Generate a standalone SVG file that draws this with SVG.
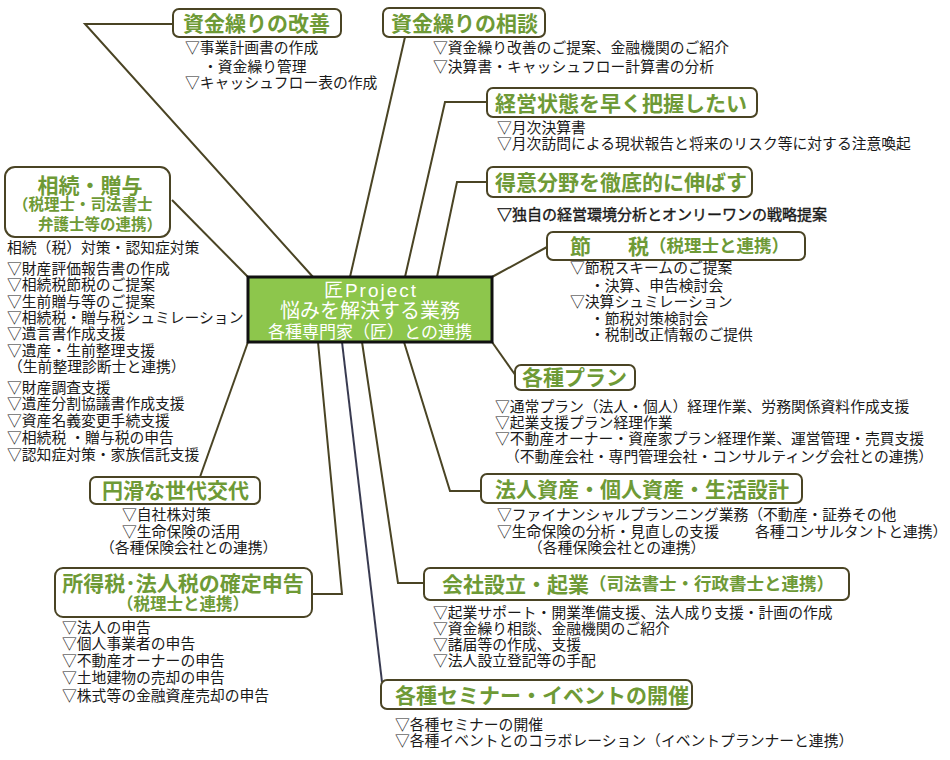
<svg xmlns="http://www.w3.org/2000/svg" width="950" height="760" viewBox="0 0 950 760">
<style>
.ln{stroke:#4a4424;stroke-width:2;fill:none}
.bx{fill:#fff;stroke:#4a4424;stroke-width:2}
text{font-family:"Liberation Sans","Noto Sans CJK JP","Noto Sans CJK SC",sans-serif;dominant-baseline:central}
.tt{font-weight:bold;fill:#6e9a36;font-size:21px}
.ts{font-weight:bold;fill:#6e9a36;font-size:17.5px}
.tx{font-size:14.8px;fill:#1a1a1a}
.cw{fill:#fff;font-size:20px;text-anchor:middle}
</style>
<rect width="950" height="760" fill="#fff"/>
<g id="connectors">
<polyline class="ln" points="173,24 85,24 313,277"/>
<polyline class="ln" points="172,200 248,277"/>
<polyline class="ln" points="405,37 350,277"/>
<polyline class="ln" points="487,102 445,102 405,277"/>
<polyline class="ln" points="487,182 457,182 437,277"/>
<polyline class="ln" points="547,247 492,277"/>
<polyline class="ln" points="492,342 516,376"/>
<polyline class="ln" points="404,342 450,491 481,491"/>
<polyline class="ln" points="362,342 398,583 424,583"/>
<polyline class="ln" points="342,342 382,682" style="stroke:#383a50"/>
<polyline class="ln" points="318,342 342,594 312,594"/>
<polyline class="ln" points="248,342 200,477"/>
</g>
<g id="center">
<rect x="248" y="277" width="244" height="65" fill="#8dc64c" stroke="#111" stroke-width="3"/>
<text class="cw"><tspan x="371" y="289.5" style="font-size:19px;letter-spacing:2px">匠Project</tspan><tspan x="370" y="311.3">悩みを解決する業務</tspan><tspan x="370" y="332" style="font-size:17px">各種専門家（匠）との連携</tspan></text>
</g>
<g id="kaizen">
<rect class="bx" x="173" y="9" width="168" height="28" rx="6"/>
<text class="tt" x="183" y="23">資金繰りの改善</text>
<text class="tx"><tspan x="185" y="48">▽事業計画書の作成</tspan><tspan x="203" y="67">・資金繰り管理</tspan><tspan x="185" y="83">▽キャッシュフロー表の作成</tspan></text>
</g>
<g id="soudan">
<rect class="bx" x="383" y="8" width="162" height="29" rx="6"/>
<text class="tt" x="391" y="23">資金繰りの相談</text>
<text class="tx"><tspan x="433" y="48">▽資金繰り改善のご提案、金融機関のご紹介</tspan><tspan x="433" y="67">▽決算書・キャッシュフロー計算書の分析</tspan></text>
</g>
<g id="keiei">
<rect class="bx" x="487" y="88" width="270" height="29" rx="6"/>
<text class="tt" x="495" y="103">経営状態を早く把握したい</text>
<text class="tx"><tspan x="497" y="128">▽月次決算書</tspan><tspan x="497" y="144">▽月次訪問による現状報告と将来のリスク等に対する注意喚起</tspan></text>
</g>
<g id="tokui">
<rect class="bx" x="487" y="167" width="265" height="30" rx="6"/>
<text class="tt" x="495" y="182">得意分野を徹底的に伸ばす</text>
<text class="tx" x="497" y="214" style="font-size:15px;stroke:#1a1a1a;stroke-width:0.4">▽独自の経営環境分析とオンリーワンの戦略提案</text>
</g>
<g id="setsuzei">
<rect class="bx" x="547" y="232" width="258" height="28" rx="6"/>
<text class="tt" y="246"><tspan x="570">節</tspan><tspan x="628">税</tspan><tspan x="649" style="font-size:17.5px">（税理士と連携）</tspan></text>
<text class="tx"><tspan x="570" y="268">▽節税スキームのご提案</tspan><tspan x="590" y="286">・決算、申告検討会</tspan><tspan x="570" y="302">▽決算シュミレーション</tspan><tspan x="590" y="319">・節税対策検討会</tspan><tspan x="590" y="335">・税制改正情報のご提供</tspan></text>
</g>
<g id="plan">
<rect class="bx" x="515" y="365" width="120" height="25" rx="6"/>
<text class="tt" x="522" y="377">各種プラン</text>
<text class="tx"><tspan x="495" y="407">▽通常プラン（法人・個人）経理作業、労務関係資料作成支援</tspan><tspan x="495" y="423">▽起業支援プラン経理作業</tspan><tspan x="495" y="439">▽不動産オーナー・資産家プラン経理作業、運営管理・売買支援</tspan><tspan x="505" y="457">（不動産会社・専門管理会社・コンサルティング会社との連携）</tspan></text>
</g>
<g id="shisan">
<rect class="bx" x="481" y="474" width="321" height="29" rx="6"/>
<text class="tt" x="495" y="489">法人資産・個人資産・生活設計</text>
<text class="tx"><tspan x="497" y="515">▽ファイナンシャルプランニング業務（不動産・証券その他</tspan><tspan x="497" y="532">▽生命保険の分析・見直しの支援</tspan><tspan x="755" y="532">各種コンサルタントと連携）</tspan><tspan x="528" y="548">（各種保険会社との連携）</tspan></text>
</g>
<g id="kigyou">
<rect class="bx" x="424" y="568" width="425" height="32" rx="6"/>
<text class="tt" y="584"><tspan x="442">会社設立・起業</tspan><tspan x="589" style="font-size:17.5px">（司法書士・行政書士と連携）</tspan></text>
<text class="tx"><tspan x="433" y="613">▽起業サポート・開業準備支援、法人成り支援・計画の作成</tspan><tspan x="433" y="629">▽資金繰り相談、金融機関のご紹介</tspan><tspan x="433" y="645">▽諸届等の作成、支援</tspan><tspan x="433" y="661">▽法人設立登記等の手配</tspan></text>
</g>
<g id="seminar">
<rect class="bx" x="381" y="680" width="311" height="29" rx="6"/>
<text class="tt" x="395" y="695">各種セミナー・イベントの開催</text>
<text class="tx"><tspan x="395" y="725">▽各種セミナーの開催</tspan><tspan x="395" y="741">▽各種イベントとのコラボレーション（イベントプランナーと連携）</tspan></text>
</g>
<g id="shinkoku">
<rect class="bx" x="55" y="568" width="257" height="49" rx="8"/>
<text class="tt" style="text-anchor:middle"><tspan x="183" y="583">所得税･法人税の確定申告</tspan><tspan x="183" y="604" style="font-size:16.5px">（税理士と連携）</tspan></text>
<text class="tx"><tspan x="62" y="628">▽法人の申告</tspan><tspan x="62" y="644">▽個人事業者の申告</tspan><tspan x="62" y="661">▽不動産オーナーの申告</tspan><tspan x="62" y="678">▽土地建物の売却の申告</tspan><tspan x="62" y="696">▽株式等の金融資産売却の申告</tspan></text>
</g>
<g id="sedai">
<rect class="bx" x="90" y="477" width="170" height="27" rx="6"/>
<text class="tt" x="102" y="490">円滑な世代交代</text>
<text class="tx"><tspan x="122" y="515">▽自社株対策</tspan><tspan x="122" y="532">▽生命保険の活用</tspan><tspan x="100" y="548">（各種保険会社との連携）</tspan></text>
</g>
<g id="souzoku">
<rect class="bx" x="5" y="167" width="165" height="70" rx="10"/>
<text class="tt"><tspan x="90" y="185" style="text-anchor:middle">相続・贈与</tspan><tspan x="13" y="204" style="font-size:15.5px">（税理士・司法書士</tspan><tspan x="38" y="224" style="font-size:15.5px">弁護士等の連携）</tspan></text>
<text class="tx"><tspan x="7" y="248">相続（税）対策・認知症対策</tspan><tspan x="7" y="269">▽財産評価報告書の作成</tspan><tspan x="7" y="285">▽相続税節税のご提案</tspan><tspan x="7" y="302">▽生前贈与等のご提案</tspan><tspan x="7" y="318">▽相続税・贈与税シュミレーション</tspan><tspan x="7" y="334">▽遺言書作成支援</tspan><tspan x="7" y="351">▽遺産・生前整理支援</tspan><tspan x="8" y="367">（生前整理診断士と連携）</tspan><tspan x="7" y="388">▽財産調査支援</tspan><tspan x="7" y="404">▽遺産分割協議書作成支援</tspan><tspan x="7" y="421">▽資産名義変更手続支援</tspan><tspan x="7" y="438">▽相続税 ・贈与税の申告</tspan><tspan x="7" y="455">▽認知症対策・家族信託支援</tspan></text>
</g>
</svg>
